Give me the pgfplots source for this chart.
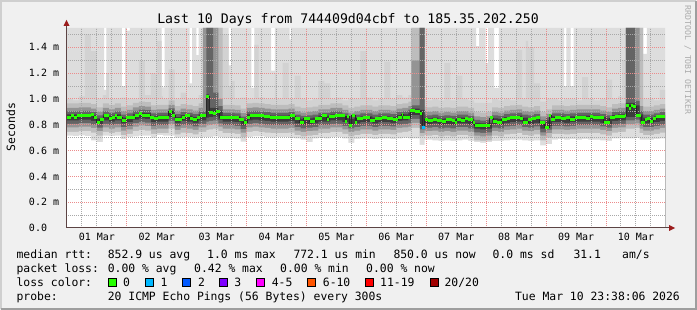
\documentclass[border=0pt]{standalone}
\usepackage{fontspec}
\setmainfont{DejaVu Sans Mono}
\usepackage{pgfplots}
\pgfplotsset{compat=1.18}
\usepackage{pgfplotstable}

\definecolor{backc}{HTML}{F0F0F0}
\definecolor{shadeA}{HTML}{CFCFCF}
\definecolor{shadeB}{HTML}{9E9E9E}
\definecolor{cA}{HTML}{DDDDDD}
\definecolor{cS}{HTML}{D2D2D2}
\definecolor{cB}{HTML}{BDBDBD}
\definecolor{cC}{HTML}{949494}
\definecolor{cD}{HTML}{646464}
\definecolor{cE}{HTML}{3C3C3C}
\definecolor{medgreen}{HTML}{26FF00}
\definecolor{lossA}{HTML}{00B8FF}
\definecolor{lossB}{HTML}{0059FF}
\definecolor{lossC}{HTML}{7E00FF}
\definecolor{lossD}{HTML}{FF00FF}
\definecolor{lossE}{HTML}{FF5500}
\definecolor{lossF}{HTML}{FF0000}
\definecolor{lossG}{HTML}{A10000}
\definecolor{gridc}{HTML}{A8A8A8}
\definecolor{mgridc}{HTML}{EC8C8C}
\definecolor{axisc}{HTML}{5C4444}
\definecolor{arrowc}{HTML}{9B1C1C}
\definecolor{wmc}{HTML}{ABABAB}

\newcommand\tickfont{\fontsize{10bp}{12bp}\selectfont}
\newcommand\legfont{\fontsize{11.4bp}{13bp}\selectfont}
\newcommand\titlefont{\fontsize{13.2bp}{15bp}\selectfont}
\newcommand\wmfont{\fontsize{8.2bp}{9bp}\selectfont}

% t t1 ts t2 t3 t4 t5 b5 b4 b3 b2 b1
\pgfplotstableread{
t t1 ts t2 t3 t4 t5 b5 b4 b3 b2 b1
-0.0153 1.55 1.00 0.965 0.930 0.903 0.880 0.835 0.807 0.780 0.745 0.715
0.1 1.55 0.99 0.965 0.930 0.903 0.880 0.835 0.807 0.780 0.745 0.712
0.2 1.55 1.02 0.970 0.935 0.908 0.885 0.840 0.812 0.785 0.750 0.718
0.3 1.55 1.50 0.970 0.935 0.908 0.885 0.840 0.812 0.785 0.750 0.712
0.4 1.55 1.37 0.960 0.925 0.898 0.875 0.830 0.802 0.775 0.740 0.680
0.5 1.55 1.00 0.935 0.900 0.873 0.850 0.805 0.777 0.750 0.715 0.665
0.6 1.55 1.03 0.965 0.930 0.903 0.880 0.835 0.807 0.780 0.745 0.715
0.62 1.07 1.03 0.965 0.930 0.903 0.880 0.835 0.807 0.780 0.745 0.715
0.66 1.55 1.20 0.965 0.930 0.903 0.880 0.835 0.807 0.780 0.745 0.715
0.7 1.55 1.00 0.955 0.920 0.893 0.870 0.825 0.797 0.770 0.735 0.712
0.8 1.55 1.00 0.965 0.930 0.903 0.880 0.835 0.807 0.780 0.745 0.715
0.9 1.55 1.01 0.940 0.905 0.878 0.855 0.810 0.782 0.755 0.720 0.690
0.917 1.10 1.01 0.940 0.905 0.878 0.855 0.810 0.782 0.755 0.720 0.690
0.97 1.55 1.01 0.940 0.905 0.878 0.855 0.810 0.782 0.755 0.720 0.690
1.0 1.53 1.00 0.950 0.915 0.888 0.865 0.820 0.792 0.765 0.730 0.705
1.05 1.55 1.00 0.950 0.915 0.888 0.865 0.820 0.792 0.765 0.730 0.705
1.1 1.55 1.00 0.970 0.935 0.908 0.885 0.840 0.812 0.785 0.750 0.710
1.2 1.55 1.30 0.980 0.945 0.918 0.895 0.850 0.822 0.795 0.760 0.715
1.3 1.55 1.03 0.975 0.940 0.913 0.890 0.845 0.817 0.790 0.755 0.715
1.4 1.55 1.20 0.950 0.915 0.888 0.865 0.820 0.792 0.765 0.730 0.700
1.5 1.55 1.45 0.955 0.920 0.893 0.870 0.825 0.797 0.770 0.735 0.720
1.58 1.09 1.02 0.955 0.920 0.893 0.870 0.825 0.797 0.770 0.735 0.720
1.6 1.09 1.00 0.955 0.920 0.893 0.870 0.825 0.797 0.770 0.735 0.715
1.63 1.55 1.00 0.955 0.920 0.893 0.870 0.825 0.797 0.770 0.735 0.715
1.7 1.55 1.23 0.990 0.955 0.928 0.905 0.860 0.832 0.805 0.770 0.715
1.8 1.55 1.00 0.945 0.910 0.883 0.860 0.815 0.787 0.760 0.725 0.700
1.9 1.55 1.05 0.960 0.925 0.898 0.875 0.830 0.802 0.775 0.740 0.705
2.0 1.55 1.00 0.955 0.920 0.893 0.870 0.825 0.797 0.770 0.735 0.705
2.05 1.12 1.00 0.955 0.920 0.893 0.870 0.825 0.797 0.770 0.735 0.705
2.09 1.55 1.00 0.955 0.920 0.893 0.870 0.825 0.797 0.770 0.735 0.705
2.1 1.55 1.00 0.945 0.910 0.883 0.860 0.815 0.787 0.760 0.725 0.700
2.16 1.34 1.00 0.945 0.910 0.883 0.860 0.815 0.787 0.760 0.725 0.700
2.2 1.55 1.03 0.965 0.930 0.903 0.880 0.835 0.807 0.780 0.745 0.705
2.27 1.55 1.55 1.55 1.55 0.903 0.880 0.835 0.807 0.780 0.745 0.705
2.33 1.55 1.55 1.55 1.55 1.55 1.035 0.855 0.825 0.795 0.760 0.705
2.37 1.55 1.55 1.55 1.55 1.55 0.930 0.860 0.830 0.800 0.765 0.705
2.44 1.55 1.55 1.55 1.55 1.05 0.930 0.865 0.835 0.805 0.770 0.710
2.53 1.55 1.55 1.55 1.00 0.945 0.910 0.840 0.810 0.785 0.750 0.705
2.6 1.55 1.50 0.955 0.920 0.893 0.870 0.825 0.797 0.770 0.735 0.700
2.7 1.26 1.10 0.955 0.920 0.893 0.870 0.825 0.797 0.770 0.735 0.700
2.74 1.55 1.14 0.955 0.920 0.893 0.870 0.825 0.797 0.770 0.735 0.700
2.8 1.55 1.00 0.950 0.915 0.888 0.865 0.820 0.792 0.765 0.730 0.695
2.9 1.55 1.01 0.925 0.890 0.863 0.840 0.795 0.767 0.740 0.705 0.670
3.0 1.55 1.00 0.965 0.930 0.903 0.880 0.835 0.807 0.780 0.745 0.705
3.08 1.085 1.00 0.965 0.930 0.903 0.880 0.835 0.807 0.780 0.745 0.705
3.1 1.085 1.00 0.970 0.935 0.908 0.885 0.840 0.812 0.785 0.750 0.710
3.13 1.55 1.42 0.970 0.935 0.908 0.885 0.840 0.812 0.785 0.750 0.710
3.2 1.55 1.01 0.965 0.930 0.903 0.880 0.835 0.807 0.780 0.745 0.710
3.3 1.55 1.00 0.960 0.925 0.898 0.875 0.830 0.802 0.775 0.740 0.705
3.4 1.55 1.00 0.955 0.920 0.893 0.870 0.825 0.797 0.770 0.735 0.700
3.41 1.22 1.00 0.955 0.920 0.893 0.870 0.825 0.797 0.770 0.735 0.700
3.47 1.55 1.20 0.955 0.920 0.893 0.870 0.825 0.797 0.770 0.735 0.700
3.5 1.55 1.00 0.955 0.920 0.893 0.870 0.825 0.797 0.770 0.735 0.705
3.6 1.55 1.28 0.955 0.920 0.893 0.870 0.825 0.797 0.770 0.735 0.705
3.7 1.55 1.00 0.960 0.925 0.898 0.875 0.830 0.802 0.775 0.740 0.700
3.72 1.46 1.00 0.960 0.925 0.898 0.875 0.830 0.802 0.775 0.740 0.700
3.74 1.55 1.00 0.960 0.925 0.898 0.875 0.830 0.802 0.775 0.740 0.700
3.8 1.55 1.18 0.940 0.905 0.878 0.855 0.810 0.782 0.755 0.720 0.695
3.9 1.55 1.00 0.930 0.895 0.868 0.845 0.800 0.772 0.745 0.710 0.685
4.0 1.55 0.99 0.935 0.900 0.873 0.850 0.805 0.777 0.750 0.715 0.665
4.1 1.55 1.00 0.940 0.905 0.878 0.855 0.810 0.782 0.755 0.720 0.695
4.2 1.55 1.14 0.955 0.920 0.893 0.870 0.825 0.797 0.770 0.735 0.700
4.3 1.55 1.12 0.955 0.920 0.893 0.870 0.825 0.797 0.770 0.735 0.695
4.4 1.55 1.00 0.965 0.930 0.903 0.880 0.835 0.807 0.780 0.745 0.705
4.5 1.55 1.01 0.965 0.930 0.903 0.880 0.835 0.807 0.780 0.745 0.705
4.6 1.55 0.99 0.950 0.915 0.888 0.865 0.820 0.792 0.765 0.730 0.695
4.7 1.55 1.00 0.930 0.895 0.868 0.845 0.800 0.772 0.745 0.710 0.660
4.8 1.55 1.00 0.940 0.905 0.878 0.855 0.810 0.782 0.755 0.720 0.690
4.9 1.55 1.37 0.950 0.915 0.888 0.865 0.820 0.792 0.765 0.730 0.695
5.0 1.55 1.01 0.950 0.915 0.888 0.865 0.820 0.792 0.765 0.730 0.695
5.1 1.55 0.99 0.940 0.905 0.878 0.855 0.810 0.782 0.755 0.720 0.690
5.2 1.55 1.00 0.950 0.915 0.888 0.865 0.820 0.792 0.765 0.730 0.695
5.3 1.55 1.29 0.950 0.915 0.888 0.865 0.820 0.792 0.765 0.730 0.695
5.4 1.55 1.00 0.945 0.910 0.883 0.860 0.815 0.787 0.760 0.725 0.690
5.5 1.55 1.03 0.960 0.925 0.898 0.875 0.830 0.802 0.775 0.740 0.695
5.6 1.55 1.01 0.965 0.930 0.903 0.880 0.835 0.807 0.780 0.745 0.700
5.7 1.55 1.03 0.980 0.945 0.918 0.895 0.845 0.815 0.785 0.750 0.695
5.75 1.55 1.55 1.55 1.30 0.950 0.925 0.875 0.845 0.815 0.775 0.695
5.89 1.55 1.55 1.55 1.55 1.55 0.915 0.795 0.765 0.735 0.710 0.645
5.97 1.55 1.00 0.940 0.905 0.878 0.855 0.810 0.782 0.755 0.720 0.685
6.0 1.55 0.99 0.935 0.900 0.873 0.850 0.805 0.777 0.750 0.715 0.685
6.1 1.55 1.00 0.940 0.905 0.878 0.855 0.810 0.782 0.755 0.720 0.680
6.2 1.55 0.99 0.930 0.895 0.868 0.845 0.800 0.772 0.745 0.710 0.675
6.3 1.55 1.28 0.935 0.900 0.873 0.850 0.805 0.777 0.750 0.715 0.680
6.4 1.55 0.99 0.930 0.895 0.868 0.845 0.800 0.772 0.745 0.710 0.675
6.5 1.55 1.18 0.940 0.905 0.878 0.855 0.810 0.782 0.755 0.720 0.680
6.6 1.55 1.00 0.940 0.905 0.878 0.855 0.810 0.782 0.755 0.720 0.685
6.7 1.55 0.99 0.930 0.895 0.868 0.845 0.800 0.772 0.745 0.710 0.675
6.8 1.55 0.97 0.900 0.865 0.838 0.815 0.770 0.742 0.715 0.680 0.665
6.83 1.41 0.97 0.900 0.865 0.838 0.815 0.770 0.742 0.715 0.680 0.665
6.88 1.55 0.97 0.900 0.865 0.838 0.815 0.770 0.742 0.715 0.680 0.665
6.9 1.55 0.97 0.895 0.860 0.833 0.810 0.765 0.737 0.710 0.675 0.660
6.99 1.28 0.97 0.895 0.860 0.833 0.810 0.765 0.737 0.710 0.675 0.660
7.0 1.28 0.97 0.900 0.865 0.838 0.815 0.770 0.742 0.715 0.680 0.665
7.03 1.55 0.97 0.900 0.865 0.838 0.815 0.770 0.742 0.715 0.680 0.665
7.1 1.55 1.00 0.935 0.900 0.873 0.850 0.805 0.777 0.750 0.715 0.675
7.13 1.085 1.00 0.935 0.900 0.873 0.850 0.805 0.777 0.750 0.715 0.675
7.2 1.085 0.99 0.930 0.895 0.868 0.845 0.800 0.772 0.745 0.710 0.675
7.21 1.55 0.99 0.930 0.895 0.868 0.845 0.800 0.772 0.745 0.710 0.675
7.3 1.55 1.00 0.945 0.910 0.883 0.860 0.815 0.787 0.760 0.725 0.680
7.4 1.55 0.99 0.950 0.915 0.888 0.865 0.820 0.792 0.765 0.730 0.685
7.5 1.55 1.38 0.955 0.920 0.893 0.870 0.825 0.797 0.770 0.735 0.685
7.6 1.55 1.00 0.940 0.905 0.878 0.855 0.810 0.782 0.755 0.720 0.680
7.66 1.55 1.45 0.940 0.905 0.878 0.855 0.810 0.782 0.755 0.720 0.680
7.7 1.55 1.40 0.935 0.900 0.873 0.850 0.805 0.777 0.750 0.715 0.675
7.8 1.55 1.12 0.945 0.910 0.883 0.860 0.815 0.787 0.760 0.725 0.680
7.9 1.55 0.98 0.900 0.865 0.838 0.815 0.770 0.742 0.715 0.680 0.640
8.0 1.55 1.00 0.920 0.885 0.858 0.835 0.790 0.762 0.735 0.700 0.650
8.1 1.55 1.00 0.950 0.915 0.888 0.865 0.820 0.792 0.765 0.730 0.685
8.2 1.55 0.99 0.950 0.915 0.888 0.865 0.820 0.792 0.765 0.730 0.690
8.3 1.10 1.00 0.945 0.910 0.883 0.860 0.815 0.787 0.760 0.725 0.685
8.34 1.55 1.00 0.945 0.910 0.883 0.860 0.815 0.787 0.760 0.725 0.685
8.4 1.55 1.00 0.950 0.915 0.888 0.865 0.820 0.792 0.765 0.730 0.690
8.41 1.10 1.00 0.950 0.915 0.888 0.865 0.820 0.792 0.765 0.730 0.690
8.46 1.55 1.00 0.950 0.915 0.888 0.865 0.820 0.792 0.765 0.730 0.690
8.5 1.55 0.99 0.955 0.920 0.893 0.870 0.825 0.797 0.770 0.735 0.685
8.6 1.55 1.17 0.955 0.920 0.893 0.870 0.825 0.797 0.770 0.735 0.690
8.7 1.55 1.00 0.955 0.920 0.893 0.870 0.825 0.797 0.770 0.735 0.685
8.8 1.55 0.99 0.955 0.920 0.893 0.870 0.825 0.797 0.770 0.735 0.685
8.9 1.55 1.00 0.945 0.910 0.883 0.860 0.815 0.787 0.760 0.725 0.680
9.0 1.55 1.15 0.935 0.900 0.873 0.850 0.805 0.777 0.750 0.715 0.675
9.1 1.55 1.00 0.960 0.925 0.898 0.875 0.830 0.802 0.775 0.740 0.695
9.2 1.55 1.02 0.965 0.930 0.903 0.880 0.835 0.807 0.780 0.745 0.695
9.27 1.55 1.30 0.965 0.930 0.903 0.880 0.835 0.807 0.780 0.745 0.695
9.33 1.55 1.55 1.55 1.55 1.55 0.970 0.860 0.835 0.805 0.770 0.695
9.48 1.55 1.55 1.55 1.55 0.985 0.950 0.865 0.840 0.810 0.775 0.700
9.56 1.55 1.55 1.55 0.945 0.905 0.880 0.825 0.795 0.770 0.735 0.685
9.62 1.35 1.00 0.940 0.905 0.878 0.855 0.810 0.782 0.755 0.720 0.685
9.68 1.55 1.00 0.940 0.905 0.878 0.855 0.810 0.782 0.755 0.720 0.685
9.7 1.55 1.00 0.940 0.905 0.878 0.855 0.810 0.782 0.755 0.720 0.685
9.8 1.55 0.99 0.950 0.915 0.888 0.865 0.820 0.792 0.765 0.730 0.690
9.9 1.55 1.07 0.960 0.925 0.898 0.875 0.830 0.802 0.775 0.740 0.695
9.9847 1.55 1.07 0.960 0.925 0.898 0.875 0.830 0.802 0.775 0.740 0.695
}\smoke

\pgfplotstableread{
t v
-0.0153 0.860
0.061 0.870
0.117 0.860
0.172 0.874
0.256 0.868
0.394 0.879
0.45 0.860
0.494 0.816
0.55 0.842
0.617 0.868
0.7 0.852
0.756 0.860
0.811 0.874
0.839 0.860
0.922 0.834
0.978 0.853
1.144 0.874
1.2 0.884
1.256 0.874
1.394 0.858
1.461 0.847
1.517 0.860
1.617 0.855
1.7 0.900
1.756 0.874
1.811 0.842
1.922 0.858
1.978 0.874
2.05 0.847
2.106 0.837
2.172 0.853
2.217 0.868
2.328 1.020
2.372 0.895
2.439 0.889
2.483 0.905
2.55 0.855
2.872 0.837
2.95 0.816
3.006 0.853
3.061 0.874
3.144 0.868
3.283 0.863
3.394 0.858
3.478 0.855
3.728 0.868
3.811 0.847
3.883 0.816
3.95 0.850
4.05 0.826
4.144 0.845
4.256 0.868
4.339 0.839
4.383 0.866
4.478 0.868
4.644 0.826
4.672 0.862
4.717 0.795
4.756 0.874
4.811 0.816
4.839 0.847
4.95 0.855
5.061 0.834
5.144 0.847
5.256 0.858
5.339 0.847
5.45 0.839
5.533 0.858
5.589 0.882
5.617 0.855
5.728 0.908
5.811 0.900
5.894 0.887
5.928 0.779
5.972 0.840
6.033 0.834
6.117 0.842
6.172 0.832
6.256 0.826
6.328 0.842
6.422 0.832
6.478 0.816
6.506 0.842
6.572 0.834
6.644 0.847
6.7 0.837
6.772 0.821
6.811 0.795
7.061 0.853
7.117 0.826
7.172 0.821
7.256 0.842
7.339 0.847
7.394 0.858
7.561 0.847
7.617 0.821
7.7 0.842
7.756 0.847
7.839 0.853
7.894 0.816
7.978 0.779
8.05 0.874
8.083 0.840
8.144 0.855
8.256 0.847
8.339 0.855
8.394 0.837
8.478 0.855
8.617 0.858
8.672 0.845
8.728 0.862
8.783 0.855
8.922 0.853
8.961 0.820
9.061 0.853
9.144 0.866
9.311 0.874
9.339 0.950
9.383 0.925
9.411 0.950
9.45 0.940
9.506 0.868
9.589 0.816
9.644 0.840
9.683 0.845
9.728 0.826
9.783 0.845
9.839 0.862
9.9847 0.862
}\median

\begin{document}
\begin{tikzpicture}
\fill[backc] (0bp,0bp) rectangle (697bp,310bp);
\draw[shadeA, line width=2bp] (1bp,1bp) -- (1bp,309bp) -- (696bp,309bp);
\draw[shadeB, line width=2bp] (1bp,1bp) -- (696bp,1bp) -- (696bp,309bp);

\begin{axis}[
  at={(66bp,82bp)}, anchor=south west,
  width=599bp, height=200bp, scale only axis,
  xmin=-0.0153, xmax=9.9847, ymin=0, ymax=1.55,
  axis background/.style={fill=white},
  axis line style={draw=none},
  xtick={0.5,1.5,2.5,3.5,4.5,5.5,6.5,7.5,8.5,9.5},
  xticklabels={01 Mar,02 Mar,03 Mar,04 Mar,05 Mar,06 Mar,07 Mar,08 Mar,09 Mar,10 Mar},
  ytick={0,0.2,0.4,0.6,0.8,1.0,1.2,1.4},
  yticklabels={{0.0\hphantom{\ m}},{0.2 m},{0.4 m},{0.6 m},{0.8 m},{1.0 m},{1.2 m},{1.4 m}},
  tick style={draw=none},
  tick label style={font=\tickfont, text=black, inner sep=0pt},
  yticklabel style={anchor=east, xshift=-6.7bp},
  xticklabel style={anchor=base, yshift=-12.3bp},
]
\addplot[const plot, draw=none, fill=cA] table[x=t,y=t1]{\smoke} \closedcycle;
\addplot[const plot, draw=none, fill=cS] table[x=t,y=ts]{\smoke} \closedcycle;
\addplot[const plot, draw=none, fill=cB] table[x=t,y=t2]{\smoke} \closedcycle;
\addplot[const plot, draw=none, fill=cC] table[x=t,y=t3]{\smoke} \closedcycle;
\addplot[const plot, draw=none, fill=cD] table[x=t,y=t4]{\smoke} \closedcycle;
\addplot[const plot, draw=none, fill=cE] table[x=t,y=t5]{\smoke} \closedcycle;
\addplot[const plot, draw=none, fill=cD] table[x=t,y=b5]{\smoke} \closedcycle;
\addplot[const plot, draw=none, fill=cC] table[x=t,y=b4]{\smoke} \closedcycle;
\addplot[const plot, draw=none, fill=cB] table[x=t,y=b3]{\smoke} \closedcycle;
\addplot[const plot, draw=none, fill=cA] table[x=t,y=b2]{\smoke} \closedcycle;
\addplot[const plot, draw=none, fill=white] table[x=t,y=b1]{\smoke} \closedcycle;

% grid (dotted), drawn over the smoke
\pgfplotsinvokeforeach{0.25,0.5,0.75,1.25,1.5,1.75,2.25,2.5,2.75,3.25,3.5,3.75,4.25,4.5,4.75,5.25,5.5,5.75,6.25,6.5,6.75,7.25,7.5,7.75,8.25,8.5,8.75,9.25,9.5,9.75}{
  \draw[gridc, line width=1bp, dash pattern=on 1bp off 1bp] (axis cs:#1,0) -- (axis cs:#1,1.55);
}
\pgfplotsinvokeforeach{0.1,0.3,0.5,0.7,0.9,1.1,1.3,1.5}{
  \draw[gridc, line width=1bp, dash pattern=on 1bp off 1bp] (axis cs:-0.0153,#1) -- (axis cs:9.9847,#1);
}
\pgfplotsinvokeforeach{1,2,3,4,5,6,7,8,9}{
  \draw[mgridc, line width=1bp, dash pattern=on 1bp off 1bp] (axis cs:#1,0) -- (axis cs:#1,1.55);
}
\pgfplotsinvokeforeach{0.2,0.4,0.6,0.8,1.0,1.2,1.4}{
  \draw[mgridc, line width=1bp, dash pattern=on 1bp off 1bp] (axis cs:-0.0153,#1) -- (axis cs:9.9847,#1);
}

\addplot[const plot, draw=black!85, line width=0.8bp] table[x=t,y=v]{\median};
\addplot[jump mark left, draw=medgreen, line width=3bp] table[x=t,y=v]{\median};
\addplot[jump mark left, draw=lossA, line width=3bp] coordinates {(5.928,0.779) (5.972,0.779)};
\end{axis}

% axis lines and arrows
\draw[axisc, line width=1bp] (66.5bp,82bp) -- (66.5bp,286bp);
\fill[arrowc] (63.5bp,284bp) -- (69.5bp,284bp) -- (66.5bp,290bp) -- cycle;
\draw[axisc, line width=1bp] (66bp,82bp) -- (670bp,82bp);
\fill[arrowc] (669bp,79bp) -- (669bp,85bp) -- (675bp,82bp) -- cycle;

% title, label, watermark
\node[font=\titlefont, anchor=base, inner sep=0pt] at (348bp,286bp) {Last 10 Days from 744409d04cbf to 185.35.202.250};
\node[font=\legfont, rotate=90, anchor=base, inner sep=0pt] at (15bp,183bp) {Seconds};
\node[font=\wmfont, text=wmc, rotate=-90, anchor=base, inner sep=0pt] at (685bp,250bp) {RRDTOOL / TOBI OETIKER};

% legend rows
\begin{scope}[every node/.style={font=\legfont, anchor=base west, inner sep=0pt}]
\node at (16.4bp,51.7bp) {median rtt:};
\node at (107.6bp,51.7bp) {852.9 us avg};
\node at (207bp,51.7bp) {1.0 ms max};
\node at (293.3bp,51.7bp) {772.1 us min};
\node at (393.3bp,51.7bp) {850.0 us now};
\node at (492.4bp,51.7bp) {0.0 ms sd};
\node at (573.3bp,51.7bp) {31.1};
\node at (622bp,51.7bp) {am/s};

\node at (16.4bp,37.3bp) {packet loss:};
\node at (107.6bp,37.3bp) {0.00 \% avg};
\node at (194bp,37.3bp) {0.42 \% max};
\node at (280bp,37.3bp) {0.00 \% min};
\node at (366bp,37.3bp) {0.00 \% now};

\node at (16.4bp,24bp) {loss color:};
\node at (123bp,24bp) {0};
\node at (160.4bp,24bp) {1};
\node at (197.8bp,24bp) {2};
\node at (234.2bp,24bp) {3};
\node at (271.6bp,24bp) {4-5};
\node at (322.7bp,24bp) {6-10};
\node at (380bp,24bp) {11-19};
\node at (444.4bp,24bp) {20/20};

\node at (16.4bp,9.7bp) {probe:};
\node at (107.6bp,9.7bp) {20 ICMP Echo Pings (56 Bytes) every 300s};
\node[anchor=base east] at (680bp,9.7bp) {Tue Mar 10 23:38:06 2026};
\end{scope}

\begin{scope}[line width=0.6bp]
\filldraw[fill=medgreen, draw=black] (108bp,24bp) rectangle (116bp,32bp);
\filldraw[fill=lossA, draw=black] (145.3bp,24bp) rectangle (153.3bp,32bp);
\filldraw[fill=lossB, draw=black] (182.2bp,24bp) rectangle (190.2bp,32bp);
\filldraw[fill=lossC, draw=black] (219bp,24bp) rectangle (227bp,32bp);
\filldraw[fill=lossD, draw=black] (256.4bp,24bp) rectangle (264.4bp,32bp);
\filldraw[fill=lossE, draw=black] (307.6bp,24bp) rectangle (315.6bp,32bp);
\filldraw[fill=lossF, draw=black] (365.3bp,24bp) rectangle (373.3bp,32bp);
\filldraw[fill=lossG, draw=black] (430.2bp,24bp) rectangle (438.2bp,32bp);
\end{scope}
\end{tikzpicture}
\end{document}
